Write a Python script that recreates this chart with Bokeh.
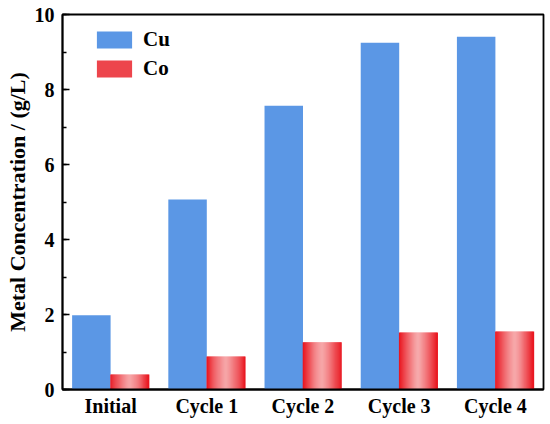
from bokeh.plotting import figure
from bokeh.models import (ColumnDataSource, Range1d, FactorRange, SingleIntervalTicker,
                          Legend, LegendItem)
from bokeh.embed import file_html
from bokeh.resources import INLINE

categories = ["Initial", "Cycle 1", "Cycle 2", "Cycle 3", "Cycle 4"]
cu_values = [1.98, 5.07, 7.57, 9.25, 9.41]
co_values = [0.40, 0.88, 1.26, 1.52, 1.55]

CU_COLOR = "#5B97E5"
EDGE = (233, 18, 28)
MID = (246, 166, 168)
N_STRIPS = 40
BAR_W = 0.4
FONT = "Liberation Serif"

p = figure(width=548, height=422, x_range=FactorRange(*categories), y_range=Range1d(0, 10),
           output_backend="svg", toolbar_location=None,
           min_border_left=62, min_border_right=5, min_border_top=14, min_border_bottom=33)

# Cu bars
cu_src = ColumnDataSource(dict(x=[(c, -BAR_W / 2) for c in categories], top=cu_values))
cu_r = p.vbar(x="x", top="top", width=BAR_W, bottom=0, source=cu_src,
              fill_color=CU_COLOR, line_color=None)

# Co bars drawn as a horizontal gradient (red edges, pink centre)
def grad_color(k):
    t = abs((k + 0.5) / N_STRIPS - 0.5) * 2
    w = t ** 1.3
    r, g, b = (int(round(MID[i] + (EDGE[i] - MID[i]) * w)) for i in range(3))
    return "#%02x%02x%02x" % (r, g, b)

sx, stop, scol = [], [], []
for c, v in zip(categories, co_values):
    for k in range(N_STRIPS):
        sx.append((c, (k + 0.5) * BAR_W / N_STRIPS))
        stop.append(v)
        scol.append(grad_color(k))
co_src = ColumnDataSource(dict(x=sx, top=stop, color=scol))
co_r = p.vbar(x="x", top="top", width=BAR_W / N_STRIPS * 1.6, bottom=0, source=co_src,
              fill_color="color", line_color=None)

# axes
p.xgrid.visible = False
p.ygrid.visible = False
p.outline_line_color = "black"
p.outline_line_width = 1.8

yax = p.yaxis[0]
yax.ticker = SingleIntervalTicker(interval=2, num_minor_ticks=2)
yax.axis_label = "Metal Concentration / (g/L)"
yax.axis_label_text_font = FONT
yax.axis_label_text_font_style = "bold"
yax.axis_label_text_font_size = "22px"
yax.axis_label_text_color = "black"
yax.axis_label_standoff = 2
yax.major_label_text_font = FONT
yax.major_label_text_font_style = "bold"
yax.major_label_text_font_size = "20px"
yax.major_label_text_color = "black"
yax.major_label_standoff = 8
yax.major_tick_in = 7
yax.major_tick_out = 0
yax.minor_tick_in = 4
yax.minor_tick_out = 0
yax.axis_line_width = 1.8
yax.major_tick_line_width = 1.5
yax.minor_tick_line_width = 1.5

xax = p.xaxis[0]
xax.axis_label = None
xax.axis_label_standoff = 0
xax.major_label_text_font = FONT
xax.major_label_text_font_style = "bold"
xax.major_label_text_font_size = "20px"
xax.major_label_text_color = "black"
xax.major_label_standoff = 5
xax.major_tick_in = 0
xax.major_tick_out = 0
xax.axis_line_width = 1.8

legend = Legend(items=[LegendItem(label="Cu", renderers=[cu_r]),
                       LegendItem(label="Co", renderers=[co_r], index=5)],
                location=(25, 303), padding=5, spacing=4, margin=0,
                glyph_width=44, glyph_height=21, label_height=21, label_standoff=7,
                label_text_font=FONT, label_text_font_style="bold",
                label_text_font_size="21px", label_text_color="black",
                border_line_alpha=0, background_fill_alpha=0)
p.add_layout(legend)

open("out.html", "w").write(file_html(p, INLINE))
